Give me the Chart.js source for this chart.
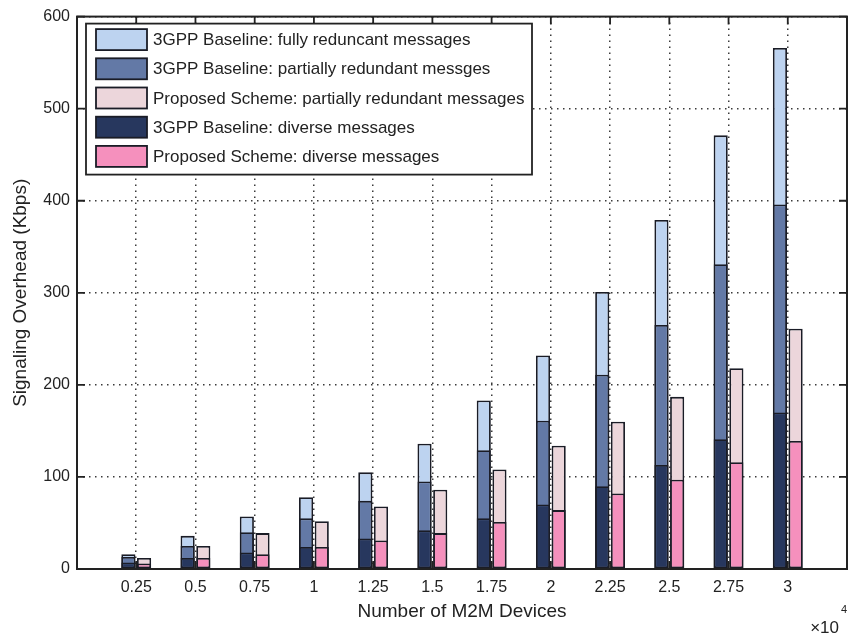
<!DOCTYPE html>
<html>
<head>
<meta charset="utf-8">
<script src="https://cdn.jsdelivr.net/npm/chart.js@4.4.1/dist/chart.umd.min.js"></script>
<style>
  html, body { margin: 0; padding: 0; background: #ffffff; }
  #wrap { width: 850px; height: 638px; }
</style>
</head>
<body>
<div id="wrap"><canvas id="chart" width="850" height="638"></canvas></div>
<script>
// Number of M2M devices (x 10^4)
const devices = [0.25, 0.5, 0.75, 1, 1.25, 1.5, 1.75, 2, 2.25, 2.5, 2.75, 3];
const deviceLabels = ['0.25', '0.5', '0.75', '1', '1.25', '1.5', '1.75', '2', '2.25', '2.5', '2.75', '3'];

// Signaling overhead (kbps), each value is the full height of its bar
const baselineFull     = [16, 36, 57, 78, 105, 136, 183, 232, 301, 379, 471, 566];
const baselinePartial  = [13, 25, 40, 55, 74, 95, 129, 161, 211, 265, 331, 396];
const baselineDiverse  = [7, 12, 18, 24, 33, 42, 55, 70, 90, 113, 141, 170];
const proposedPartial  = [12, 25, 39, 52, 68, 86, 108, 134, 160, 187, 218, 261];
const proposedDiverse  = [6, 12, 16, 24, 31, 39, 51, 64, 82, 97, 116, 139];

const yTicks = [0, 100, 200, 300, 400, 500, 600];

const INK = '#222222';
const EDGE = '#1a1c26';
const FONT = "'Liberation Sans', Arial, Helvetica, sans-serif";

const points = vals => devices.map((d, i) => ({ x: d, y: vals[i] }));

// Shorter bars come first so they are painted over the taller ones in the same slot
const datasets = [
  { label: '3GPP Baseline: diverse messages', data: points(baselineDiverse), backgroundColor: '#27375e', stack: 'baseline' },
  { label: 'Proposed Scheme: diverse messages', data: points(proposedDiverse), backgroundColor: '#f590bd', stack: 'proposed' },
  { label: '3GPP Baseline: partially redundant messges', data: points(baselinePartial), backgroundColor: '#6379a6', stack: 'baseline' },
  { label: 'Proposed Scheme: partially redundant messages', data: points(proposedPartial), backgroundColor: '#ecd6db', stack: 'proposed' },
  { label: '3GPP Baseline: fully reduncant messages', data: points(baselineFull), backgroundColor: '#bdd3f0', stack: 'baseline' }
];
datasets.forEach(ds => {
  ds.borderColor = EDGE;
  ds.borderWidth = 1.8;
  ds.borderSkipped = false;
  ds.categoryPercentage = 0.53;
  ds.barPercentage = 0.9;
});

// Legend rows, top to bottom, as dataset indices
const legendOrder = [4, 2, 3, 0, 1];

const boxPlugin = {
  id: 'boxAndTicks',
  afterDatasetsDraw(chart) {
    const { ctx, chartArea: a, scales: { x, y } } = chart;
    const tl = 8;
    ctx.save();
    ctx.strokeStyle = INK;
    ctx.lineWidth = 1.8;
    ctx.beginPath();
    devices.forEach(v => {
      const px = x.getPixelForValue(v);
      ctx.moveTo(px, a.bottom); ctx.lineTo(px, a.bottom - tl);
      ctx.moveTo(px, a.top); ctx.lineTo(px, a.top + tl);
    });
    yTicks.forEach(v => {
      const py = y.getPixelForValue(v);
      ctx.moveTo(a.left, py); ctx.lineTo(a.left + tl, py);
      ctx.moveTo(a.right, py); ctx.lineTo(a.right - tl, py);
    });
    ctx.stroke();
    ctx.lineWidth = 2;
    ctx.strokeRect(a.left, a.top, a.right - a.left, a.bottom - a.top);

    // exponent of the x axis
    ctx.fillStyle = INK;
    ctx.font = '17px ' + FONT;
    ctx.textAlign = 'right';
    ctx.textBaseline = 'middle';
    ctx.fillText('\u00d710', a.right - 8, 628);
    ctx.font = '11px ' + FONT;
    ctx.textAlign = 'left';
    ctx.fillText('4', a.right - 6, 610);
    ctx.restore();
  }
};

const legendPlugin = {
  id: 'boxLegend',
  afterDraw(chart) {
    const { ctx, chartArea: a } = chart;
    const left = a.left + 9, top = a.top + 7, w = 446, h = 151;
    const rowTop = top + 16, rowStep = 29.2;
    ctx.save();
    ctx.fillStyle = '#ffffff';
    ctx.fillRect(left, top, w, h);
    ctx.strokeStyle = INK;
    ctx.lineWidth = 1.8;
    ctx.strokeRect(left, top, w, h);
    ctx.font = '17px ' + FONT;
    ctx.textBaseline = 'middle';
    ctx.textAlign = 'left';
    legendOrder.forEach((di, r) => {
      const ds = chart.data.datasets[di];
      const cy = rowTop + r * rowStep;
      ctx.fillStyle = ds.backgroundColor;
      ctx.fillRect(left + 10, cy - 10.5, 51, 21);
      ctx.strokeStyle = EDGE;
      ctx.strokeRect(left + 10, cy - 10.5, 51, 21);
      ctx.fillStyle = INK;
      ctx.fillText(ds.label, left + 67, cy + 1);
    });
    ctx.restore();
  }
};

new Chart(document.getElementById('chart'), {
  type: 'bar',
  data: { datasets },
  plugins: [boxPlugin, legendPlugin],
  options: {
    responsive: false,
    animation: false,
    devicePixelRatio: 1,
    layout: { padding: { top: 15, right: 3, left: 0, bottom: 0 } },
    plugins: { legend: { display: false }, tooltip: { enabled: false } },
    scales: {
      x: {
        type: 'linear',
        min: 0,
        max: 3.25,
        offset: false,
        afterBuildTicks: s => { s.ticks = devices.map(v => ({ value: v })); },
        afterFit: s => { s.height = 69; },
        grid: { offset: false, color: '#3a3a3a', lineWidth: 1.5, drawTicks: false },
        border: { display: false, dash: [1.5, 4.5] },
        ticks: {
          autoSkip: false,
          maxRotation: 0,
          padding: 9,
          color: INK,
          font: { family: FONT, size: 16 },
          callback: (v, i) => deviceLabels[i]
        },
        title: {
          display: true,
          text: 'Number of M2M Devices',
          color: INK,
          font: { family: FONT, size: 19 },
          padding: { top: 0, bottom: 15 }
        }
      },
      y: {
        min: 0,
        max: 600,
        stacked: false,
        afterBuildTicks: s => { s.ticks = yTicks.map(v => ({ value: v })); },
        afterFit: s => { s.width = 77; },
        grid: { color: '#3a3a3a', lineWidth: 1.5, drawTicks: false },
        border: { display: false, dash: [1.5, 4.5] },
        ticks: {
          padding: 7,
          color: INK,
          font: { family: FONT, size: 16 },
          callback: v => String(v)
        },
        title: {
          display: true,
          text: 'Signaling Overhead (Kbps)',
          color: INK,
          font: { family: FONT, size: 19 },
          padding: { top: 9, bottom: 0 }
        }
      }
    }
  }
});
</script>
</body>
</html>
